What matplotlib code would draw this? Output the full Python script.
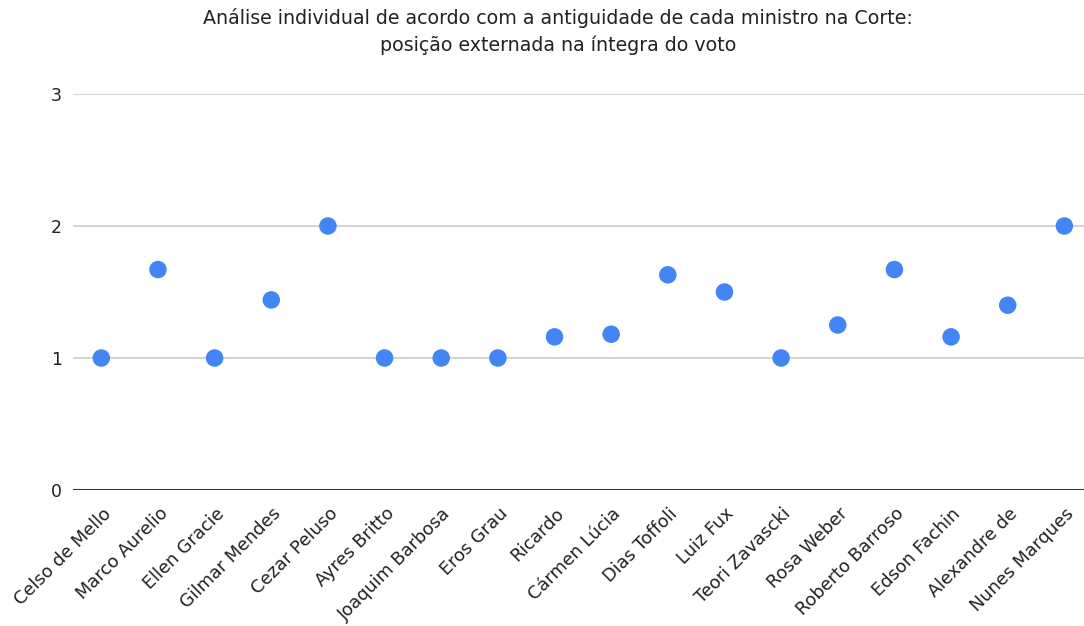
import matplotlib
matplotlib.use("Agg")
import matplotlib.pyplot as plt
from matplotlib.transforms import ScaledTranslation

plt.rcParams["font.family"] = "DejaVu Sans"

# Ministers ordered by seniority at the Court
ministros = [
    "Celso de Mello", "Marco Aurelio", "Ellen Gracie", "Gilmar Mendes",
    "Cezar Peluso", "Ayres Britto", "Joaquim Barbosa", "Eros Grau",
    "Ricardo", "Cármen Lúcia", "Dias Toffoli", "Luiz Fux",
    "Teori Zavascki", "Rosa Weber", "Roberto Barroso", "Edson Fachin",
    "Alexandre de", "Nunes Marques",
]
# Average position stated in the full text of the vote
posicao = [
    1.0, 1.67, 1.0, 1.44, 2.0, 1.0, 1.0, 1.0,
    1.16, 1.18, 1.63, 1.5, 1.0, 1.25, 1.67, 1.16,
    1.4, 2.0,
]
y_ticks = [0, 1, 2, 3]

title = ("Análise individual de acordo com a antiguidade de cada ministro na Corte:\n"
         "posição externada na íntegra do voto")

W, H = 1084, 626
fig = plt.figure(figsize=(W / 100, H / 100), dpi=100)
ax = fig.add_axes([73 / W, (H - 490) / H, (W - 73) / W, (490 - 94) / H])

x = list(range(len(ministros)))
ax.scatter(x, posicao, s=17 ** 2 * 0.55, color="#4285F4", zorder=3,
           edgecolors="none")

ax.set_xlim(-0.5, (W - 73) / 56.65 - 0.5)
ax.set_ylim(0, 3)
ax.set_yticks(y_ticks)
ax.set_yticklabels([str(v) for v in y_ticks], fontsize=12.5)
ax.set_xticks(x)
ax.set_xticklabels(ministros, rotation=45, ha="right", va="center",
                   rotation_mode="anchor", fontsize=12.8)
ax.tick_params(axis="both", length=0, colors="#222222")
ax.tick_params(axis="y", pad=8)
ax.tick_params(axis="x", pad=0)

# shift the rotated labels so their ends sit just right of each point
shift = ScaledTranslation(7 / 100, -21 / 100, fig.dpi_scale_trans)
for lbl in ax.get_xticklabels():
    lbl.set_transform(lbl.get_transform() + shift)

for v in y_ticks[1:]:
    ax.axhline(v, color="#cccccc", linewidth=1.2, zorder=1)
ax.axhline(0, color="#333333", linewidth=1.5, zorder=2)

for side in ["top", "right", "left", "bottom"]:
    ax.spines[side].set_visible(False)

fig.text(558 / W, 1 - 31.5 / H, title, ha="center", va="center",
         fontsize=13.7, color="#222222", linespacing=1.5)

fig.savefig("out.png", dpi=100)
